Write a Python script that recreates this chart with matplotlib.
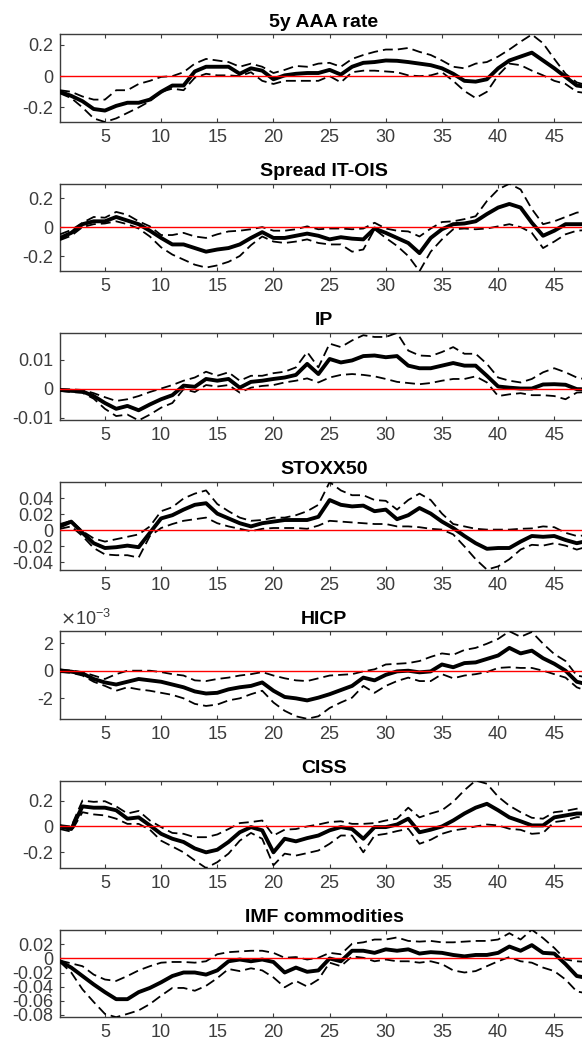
import numpy as np
import matplotlib
matplotlib.use('Agg')
from matplotlib import pyplot as plt
from matplotlib.ticker import FixedLocator, FuncFormatter

plt.rcParams['font.family'] = ['Liberation Sans', 'DejaVu Sans']
plt.rcParams['axes.unicode_minus'] = False

horizon = np.arange(1, 49)

titles = ['5y AAA rate', 'Spread IT-OIS', 'IP', 'STOXX50', 'HICP', 'CISS', 'IMF commodities']

aaa_med = [-0.10, -0.126, -0.16, -0.21, -0.22, -0.19, -0.17, -0.17, -0.15, -0.10, -0.06, -0.06, 0.03, 0.06, 0.06, 0.06,
           0.015, 0.05, 0.035, -0.02, 0.005, 0.015, 0.02, 0.02, 0.04, 0.01, 0.06, 0.085, 0.09, 0.10, 0.098, 0.09,
           0.08, 0.07, 0.05, 0.015, -0.03, -0.035, -0.02, 0.05, 0.10, 0.125, 0.15, 0.10, 0.05, -0.005, -0.06, -0.07]
aaa_up = [-0.09, -0.10, -0.13, -0.15, -0.15, -0.09, -0.09, -0.05, -0.03, -0.005, 0.0, 0.025, 0.08, 0.11, 0.10, 0.09,
          0.06, 0.08, 0.06, 0.02, 0.04, 0.065, 0.06, 0.08, 0.085, 0.06, 0.11, 0.135, 0.155, 0.17, 0.17, 0.18,
          0.155, 0.135, 0.10, 0.06, 0.05, 0.08, 0.09, 0.125, 0.17, 0.22, 0.266, 0.21, 0.11, 0.015, -0.04, -0.06]
aaa_lo = [-0.11, -0.14, -0.20, -0.27, -0.293, -0.27, -0.235, -0.20, -0.16, -0.10, -0.08, -0.09, -0.01, 0.015, 0.005, 0.005,
          0.0, 0.025, -0.03, -0.05, -0.03, -0.03, -0.03, -0.03, 0.0, -0.04, 0.025, 0.035, 0.035, 0.03, 0.025, 0.005,
          0.0, 0.005, 0.025, -0.03, -0.095, -0.14, -0.10, 0.005, 0.08, 0.07, 0.035, 0.005, -0.03, -0.05, -0.10, -0.11]

spread_med = [-0.075, -0.04, 0.02, 0.04, 0.04, 0.07, 0.045, 0.02, -0.025, -0.075, -0.12, -0.12, -0.145, -0.17, -0.155, -0.145,
              -0.12, -0.075, -0.035, -0.075, -0.075, -0.06, -0.045, -0.06, -0.085, -0.07, -0.08, -0.085, -0.01, -0.04, -0.075, -0.11,
              -0.18, -0.075, -0.015, 0.02, 0.025, 0.04, 0.09, 0.135, 0.16, 0.135, 0.03, -0.06, -0.025, 0.02, 0.02, 0.02]
spread_up = [-0.05, -0.02, 0.03, 0.07, 0.065, 0.105, 0.085, 0.04, 0.005, -0.055, -0.055, -0.04, -0.065, -0.075, -0.05, -0.03,
             -0.025, -0.015, 0.0, -0.025, -0.025, -0.015, 0.005, -0.015, -0.01, -0.01, -0.015, -0.01, 0.03, -0.01, -0.025, -0.03,
             -0.065, -0.01, 0.035, 0.04, 0.055, 0.075, 0.18, 0.26, 0.30, 0.26, 0.125, 0.02, 0.04, 0.07, 0.10, 0.11]
spread_lo = [-0.09, -0.06, 0.0, 0.02, 0.025, 0.04, 0.02, -0.01, -0.065, -0.14, -0.19, -0.225, -0.26, -0.28, -0.265, -0.24,
             -0.20, -0.125, -0.065, -0.10, -0.11, -0.10, -0.085, -0.11, -0.12, -0.12, -0.17, -0.155, -0.015, -0.075, -0.13, -0.20,
             -0.305, -0.17, -0.085, -0.015, -0.01, -0.015, -0.01, 0.005, 0.02, 0.0, -0.04, -0.145, -0.10, -0.05, -0.025, -0.02]

ip_med = [-0.0005, -0.0008, -0.001, -0.0026, -0.005, -0.007, -0.006, -0.0075, -0.0055, -0.0037, -0.0023, 0.001, 0.0006, 0.0033,
          0.0027, 0.0033, 0.0003, 0.0023, 0.0027, 0.0033, 0.0038, 0.0047, 0.0085, 0.005, 0.0102, 0.009, 0.0097, 0.0112,
          0.0114, 0.0108, 0.0112, 0.0079, 0.007, 0.007, 0.0079, 0.0088, 0.0079, 0.0079, 0.0044, 0.0007, 0.0003, 0.0,
          0.0, 0.0014, 0.0015, 0.0013, -0.0002, -0.0003]
ip_up = [-0.0002, -0.0003, -0.0005, -0.0016, -0.003, -0.0043, -0.0037, -0.0026, -0.0012, 0.0, 0.0012, 0.0027, 0.0038, 0.0058,
         0.0044, 0.0056, 0.0027, 0.0044, 0.0044, 0.0053, 0.0058, 0.0073, 0.0126, 0.0073, 0.0155, 0.0143, 0.0166, 0.0184,
         0.0178, 0.0178, 0.0192, 0.0131, 0.0114, 0.0112, 0.0126, 0.0143, 0.012, 0.012, 0.0085, 0.0038, 0.0027, 0.0021,
         0.0033, 0.0056, 0.007, 0.0056, 0.0038, 0.003]
ip_lo = [-0.0008, -0.0012, -0.0015, -0.0035, -0.007, -0.0095, -0.009, -0.011, -0.009, -0.0066, -0.005, -0.0002, -0.0012, 0.0012,
         0.0007, 0.0012, -0.0014, 0.0003, 0.0009, 0.0012, 0.0021, 0.0027, 0.0035, 0.0021, 0.0038, 0.0047, 0.005, 0.0047,
         0.0042, 0.0033, 0.0023, 0.0019, 0.0015, 0.0019, 0.0027, 0.0033, 0.0033, 0.0042, 0.0021, -0.0026, -0.002, -0.0016,
         -0.0023, -0.0023, -0.0026, -0.0037, -0.0014, -0.0012]

stoxx_med = [0.005, 0.011, -0.003, -0.016, -0.022, -0.021, -0.019, -0.021, -0.003, 0.015, 0.019, 0.026, 0.032, 0.034, 0.021, 0.015,
             0.009, 0.005, 0.009, 0.011, 0.013, 0.013, 0.013, 0.017, 0.038, 0.032, 0.03, 0.031, 0.024, 0.026, 0.014, 0.019,
             0.028, 0.021, 0.011, 0.003, -0.007, -0.016, -0.023, -0.022, -0.022, -0.014, -0.007, -0.008, -0.007, -0.012, -0.016, -0.013]
stoxx_up = [0.008, 0.012, -0.001, -0.01, -0.014, -0.011, -0.008, -0.005, 0.005, 0.024, 0.029, 0.04, 0.046, 0.05, 0.033, 0.024,
            0.016, 0.012, 0.013, 0.016, 0.016, 0.019, 0.024, 0.032, 0.0604, 0.05, 0.044, 0.044, 0.038, 0.037, 0.026, 0.038,
            0.046, 0.038, 0.021, 0.008, 0.005, 0.002, 0.001, 0.001, 0.001, 0.002, 0.0025, 0.005, 0.004, -0.003, -0.007, -0.006]
stoxx_lo = [0.002, 0.005, -0.007, -0.022, -0.03, -0.031, -0.031, -0.034, -0.007, 0.003, 0.008, 0.012, 0.014, 0.016, 0.009, 0.005,
            0.002, -0.001, 0.002, 0.003, 0.003, 0.003, 0.002, 0.006, 0.012, 0.011, 0.01, 0.009, 0.008, 0.008, 0.005, 0.005,
            0.004, 0.002, 0.001, -0.005, -0.02, -0.036, -0.049, -0.045, -0.036, -0.024, -0.018, -0.019, -0.016, -0.019, -0.024, -0.02]

# HICP read in units of 1e-3
hicp_med = [0.0, -0.07, -0.2, -0.6, -0.85, -1.0, -0.8, -0.6, -0.7, -0.8, -1.0, -1.2, -1.5, -1.65, -1.6, -1.35,
            -1.2, -1.1, -0.85, -1.45, -1.9, -2.0, -2.15, -1.95, -1.7, -1.4, -1.1, -0.5, -0.7, -0.3, -0.05, 0.0,
            -0.12, -0.05, 0.45, 0.25, 0.55, 0.6, 0.85, 1.1, 1.65, 1.25, 1.45, 0.9, 0.5, 0.0, -0.8, -1.0]
hicp_up = [0.1, 0.0, -0.1, -0.35, -0.6, -0.25, 0.0, 0.0, 0.0, -0.1, -0.25, -0.35, -0.7, -0.75, -0.6, -0.5,
           -0.35, -0.25, -0.1, -0.35, -0.55, -0.7, -0.75, -0.55, -0.35, -0.3, -0.25, -0.05, 0.1, 0.45, 0.5, 0.55,
           0.7, 1.0, 1.25, 1.15, 1.5, 1.65, 1.95, 2.3, 2.85, 2.45, 2.8, 1.95, 1.2, 0.7, -0.35, -0.5]
hicp_lo = [-0.1, -0.15, -0.35, -0.8, -1.1, -1.45, -1.2, -1.35, -1.45, -1.6, -1.75, -2.0, -2.4, -2.55, -2.45, -2.15,
           -2.0, -1.7, -1.45, -2.3, -2.9, -3.3, -3.48, -3.3, -2.7, -2.3, -1.95, -1.1, -1.6, -1.1, -0.75, -0.5,
           -0.75, -0.75, -0.25, -0.55, -0.35, -0.25, -0.1, 0.2, 0.25, 0.2, 0.2, 0.0, -0.25, -0.5, -1.2, -1.5]

ciss_med = [0.0, -0.02, 0.155, 0.145, 0.145, 0.125, 0.06, 0.07, 0.008, -0.057, -0.095, -0.12, -0.17, -0.2, -0.18, -0.12,
            -0.045, -0.005, -0.03, -0.2, -0.095, -0.115, -0.09, -0.07, -0.03, -0.005, -0.02, -0.095, -0.005, -0.005, 0.015, 0.06,
            -0.045, -0.025, 0.0, 0.046, 0.1, 0.145, 0.175, 0.125, 0.07, 0.04, 0.008, 0.008, 0.07, 0.085, 0.1, 0.1]
ciss_up = [0.01, 0.0, 0.2, 0.19, 0.195, 0.155, 0.1, 0.12, 0.046, -0.005, -0.05, -0.057, -0.083, -0.083, -0.062, -0.02,
           0.026, 0.034, 0.046, -0.07, -0.025, -0.02, 0.0, 0.015, 0.034, 0.04, 0.02, 0.02, 0.026, 0.046, 0.06, 0.145,
           0.07, 0.1, 0.125, 0.19, 0.28, 0.355, 0.33, 0.23, 0.16, 0.11, 0.067, 0.06, 0.11, 0.12, 0.137, 0.14]
ciss_lo = [-0.02, -0.04, 0.11, 0.093, 0.085, 0.06, 0.02, 0.02, -0.025, -0.11, -0.155, -0.2, -0.263, -0.321, -0.276, -0.21,
           -0.11, -0.05, -0.095, -0.3, -0.21, -0.225, -0.206, -0.186, -0.134, -0.07, -0.07, -0.2, -0.07, -0.057, -0.036, -0.018,
           -0.134, -0.103, -0.057, -0.031, -0.018, 0.0, 0.015, 0.008, -0.018, -0.026, -0.057, -0.05, 0.034, 0.046, 0.072, 0.07]

imf_med = [-0.004, -0.013, -0.025, -0.037, -0.048, -0.058, -0.058, -0.048, -0.042, -0.034, -0.025, -0.02, -0.02, -0.023, -0.017, -0.004,
           -0.0015, -0.004, -0.0015, -0.005, -0.02, -0.013, -0.019, -0.017, 0.0, -0.004, 0.011, 0.011, 0.008, 0.013, 0.011, 0.013,
           0.007, 0.009, 0.008, 0.005, 0.003, 0.005, 0.005, 0.008, 0.017, 0.011, 0.019, 0.008, 0.007, -0.008, -0.025, -0.028]
imf_up = [-0.003, -0.007, -0.011, -0.023, -0.03, -0.032, -0.025, -0.017, -0.011, -0.006, -0.005, -0.005, -0.006, -0.004, 0.006, 0.009,
          0.01, 0.011, 0.011, 0.008, 0.001, 0.002, -0.0015, 0.001, 0.008, 0.006, 0.021, 0.023, 0.027, 0.027, 0.03, 0.025,
          0.024, 0.025, 0.023, 0.023, 0.024, 0.025, 0.025, 0.027, 0.036, 0.027, 0.041, 0.029, 0.015, -0.0015, -0.004, -0.005]
imf_lo = [-0.005, -0.02, -0.044, -0.062, -0.079, -0.0837, -0.079, -0.074, -0.065, -0.053, -0.042, -0.042, -0.046, -0.039, -0.028, -0.015,
          -0.018, -0.014, -0.017, -0.027, -0.041, -0.032, -0.04, -0.03, -0.006, -0.011, 0.003, 0.001, -0.004, -0.0015, -0.004, -0.004,
          -0.006, -0.004, -0.008, -0.017, -0.02, -0.018, -0.011, -0.004, 0.002, -0.004, -0.006, -0.013, -0.018, -0.03, -0.047, -0.05]

medians = [aaa_med, spread_med, ip_med, stoxx_med, hicp_med, ciss_med, imf_med]
uppers = [aaa_up, spread_up, ip_up, stoxx_up, hicp_up, ciss_up, imf_up]
lowers = [aaa_lo, spread_lo, ip_lo, stoxx_lo, hicp_lo, ciss_lo, imf_lo]
yticks = [[-0.2, 0, 0.2], [-0.2, 0, 0.2], [-0.01, 0, 0.01], [-0.04, -0.02, 0, 0.02, 0.04],
          [-2, 0, 2], [-0.2, 0, 0.2], [-0.08, -0.06, -0.04, -0.02, 0, 0.02]]

W, H = 582, 1047
fig = plt.figure(figsize=(W / 100, H / 100), dpi=100)

grey = '#3c3c3c'
left = 60 / W
width = 528 / W
for i in range(7):
    top = 34.5 + i * 149.2
    ax = fig.add_axes([left, 1 - (top + 87.5) / H, width, 87.5 / H])
    ax.plot(horizon, medians[i], color='k', lw=2.8, zorder=3)
    ax.plot(horizon, uppers[i], color='k', lw=1.3, dashes=(5.5, 2.8), zorder=3)
    ax.plot(horizon, lowers[i], color='k', lw=1.3, dashes=(5.5, 2.8), zorder=3)
    ax.axhline(0, color='r', lw=1.0, zorder=4)
    ax.set_xlim(1, 48)
    ax.set_ylim(min(lowers[i]), max(uppers[i]))
    ax.set_xticks(range(5, 48, 5))
    ax.yaxis.set_major_locator(FixedLocator(yticks[i]))
    ax.yaxis.set_major_formatter(FuncFormatter(lambda v, p: '%g' % round(v, 6)))
    ax.tick_params(direction='in', length=3, width=0.8, top=True, right=True,
                   labelsize=13, colors=grey, pad=5)
    for s in ax.spines.values():
        s.set_color(grey)
        s.set_linewidth(1.0)
    ax.set_title(titles[i], fontsize=14, fontweight='bold', pad=5.5)
    if i == 4:
        ax.text(0, 1.03, r'$\times\mathregular{10^{-3}}$', transform=ax.transAxes,
                fontsize=13, color=grey, va='bottom', ha='left')

fig.savefig('out.png', dpi=100)
